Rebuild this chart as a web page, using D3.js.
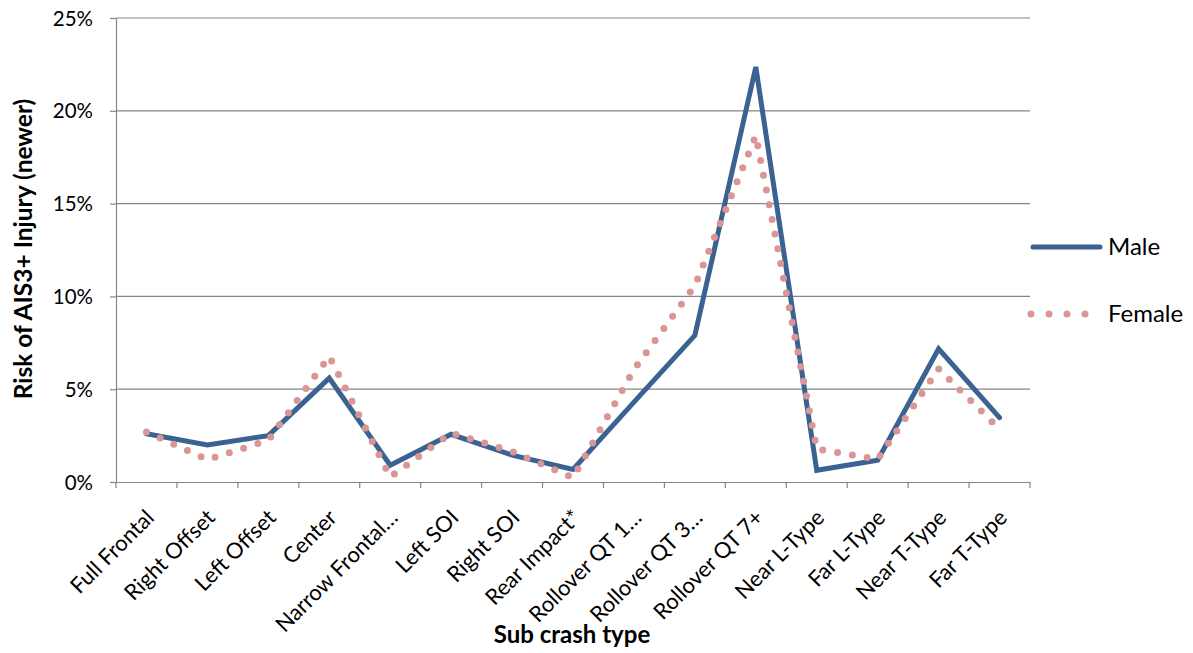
<!DOCTYPE html>
<html><head><meta charset="utf-8">
<script src="https://cdn.jsdelivr.net/npm/d3@7/dist/d3.min.js"></script>
<style>body{margin:0;background:#fff}</style>
</head><body>
<svg id="chart" width="1193" height="653"></svg>
<script>
const categories = ["Full Frontal","Right Offset","Left Offset","Center","Narrow Frontal…","Left SOI","Right SOI","Rear Impact*","Rollover QT 1…","Rollover QT 3…","Rollover QT 7+","Near L-Type","Far L-Type","Near T-Type","Far T-Type"];
const male   = [0.026,0.020,0.025,0.056,0.009,0.0257,0.0145,0.0068,0.043,0.079,0.2236,0.0063,0.0117,0.0718,0.0347];
const female = [0.027,0.012,0.0225,0.0677,0.0027,0.0264,0.0165,0.0023,0.0605,0.1058,0.1866,0.0178,0.0122,0.061,0.0285];
const yTicks = [0,0.05,0.10,0.15,0.20,0.25];
const seriesNames = ["Male","Female"];

const svg = d3.select("#chart");
const font = "Lato, 'Open Sans', sans-serif";
const L=116, R=1030, T=18, B=482;
const x = d3.scaleBand().domain(categories).range([L,R]).padding(0);
const y = d3.scaleLinear().domain([0,0.25]).range([B,T]);
const grey = "#868686";

// gridlines
svg.append("g").selectAll("line").data(yTicks.slice(1)).join("line")
  .attr("x1",L).attr("x2",R).attr("y1",d=>y(d)).attr("y2",d=>y(d))
  .attr("stroke",grey).attr("stroke-width",1.2);

// y axis
const yAxis = svg.append("g").attr("transform",`translate(${L},0)`)
  .call(d3.axisLeft(y).tickValues(yTicks).tickFormat(d3.format(".0%")).tickSize(6).tickSizeOuter(0));
yAxis.select(".domain").attr("stroke",grey).attr("stroke-width",1.2);
yAxis.selectAll(".tick line").attr("stroke",grey).attr("stroke-width",1.2);
yAxis.selectAll(".tick text").attr("font-family",font).attr("font-size",20.5).attr("fill","#000").attr("x",-23).attr("dy","0.35em");

// x axis
const xAxis = svg.append("g").attr("transform",`translate(0,${B})`)
  .call(d3.axisBottom(x).tickSize(0).tickSizeOuter(0));
xAxis.select(".domain").attr("stroke",grey).attr("stroke-width",1.2);
xAxis.selectAll(".tick text").attr("font-family",font).attr("font-size",22).attr("fill","#000")
  .attr("text-anchor","end").attr("dy",0).attr("y",0)
  .attr("transform","translate(9,37) rotate(-45)");
// boundary ticks
const bounds = categories.map(c=>x(c)).concat([R]);
svg.append("g").selectAll("line").data(bounds).join("line")
  .attr("x1",d=>d).attr("x2",d=>d).attr("y1",B).attr("y2",B+6)
  .attr("stroke",grey).attr("stroke-width",1.2);

const cx = c => x(c)+x.bandwidth()/2;
const line = d3.line().x((d,i)=>cx(categories[i])).y(d=>y(d));

svg.append("path").datum(male).attr("d",line).attr("fill","none")
  .attr("stroke","#3A6293").attr("stroke-width",5).attr("stroke-linejoin","miter").attr("stroke-linecap","round");
svg.append("path").datum(female).attr("d",line).attr("fill","none")
  .attr("stroke","#D99694").attr("stroke-width",7).attr("stroke-dasharray","0,15").attr("stroke-linecap","round");

// axis titles
svg.append("text").attr("x",572).attr("y",643).attr("text-anchor","middle")
  .attr("font-family",font).attr("font-weight","bold").attr("font-size",24).text("Sub crash type");
svg.append("text").attr("transform","translate(32,249) rotate(-90)").attr("text-anchor","middle")
  .attr("font-family",font).attr("font-weight","bold").attr("font-size",24.5).text("Risk of AIS3+ Injury (newer)");

// legend
const lg = svg.append("g");
lg.append("line").attr("x1",1033).attr("x2",1100).attr("y1",247).attr("y2",247)
  .attr("stroke","#3A6293").attr("stroke-width",5).attr("stroke-linecap","round");
lg.append("line").attr("x1",1031).attr("x2",1090).attr("y1",314).attr("y2",314)
  .attr("stroke","#D99694").attr("stroke-width",7).attr("stroke-dasharray","0,18").attr("stroke-linecap","round");
lg.selectAll("text.lg").data(seriesNames).join("text").attr("class","lg")
  .attr("x",1108).attr("y",(d,i)=>[247,314][i]).attr("dy","0.35em")
  .attr("font-family",font).attr("font-size",24).text(d=>d);
</script>
</body></html>
